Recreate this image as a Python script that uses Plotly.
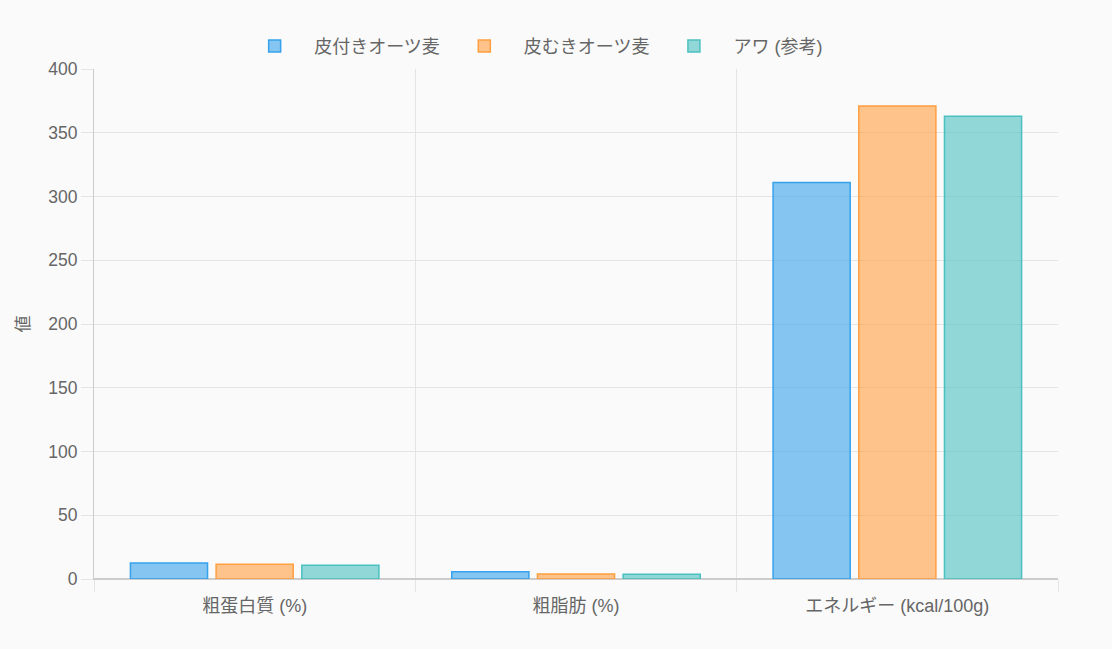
import plotly.graph_objects as go

categories = ["粗蛋白質 (%)", "粗脂肪 (%)", "エネルギー (kcal/100g)"]
series_names = ["皮付きオーツ麦", "皮むきオーツ麦", "アワ (参考)"]
hulled_oat = [12.5, 5.7, 311]
dehulled_oat = [11.5, 4.0, 371]
millet = [10.7, 3.7, 363]
y_ticks = [0, 50, 100, 150, 200, 250, 300, 350, 400]

fills = ["rgba(54,162,235,0.6)", "rgba(255,159,64,0.6)", "rgba(75,192,192,0.6)"]
borders = ["rgb(54,162,235)", "rgb(255,159,64)", "rgb(75,192,192)"]

fig = go.Figure()
for name, vals, f, b in zip(series_names, [hulled_oat, dehulled_oat, millet], fills, borders):
    fig.add_trace(go.Bar(x=categories, y=vals, name=name,
                         marker=dict(color=f, line=dict(color=b, width=1.5))))

font = "Liberation Sans, Arial, Noto Sans CJK JP, sans-serif"
fig.update_layout(
    width=1112, height=649,
    paper_bgcolor="#fafafa", plot_bgcolor="#fafafa",
    margin=dict(l=94, r=54, t=69, b=70),
    barmode="group", bargap=0.2, bargroupgap=0.1,
    font=dict(family=font, size=17, color="#666"),
    legend=dict(orientation="h", x=0.454, xanchor="center", y=1.008, yanchor="bottom",
                font=dict(size=18, color="#666"), itemwidth=69),
    showlegend=True,
)
fig.update_xaxes(type="category", tickson="boundaries", showgrid=True, gridcolor="#e4e4e4",
                 ticks="outside", ticklen=12, tickcolor="#e4e4e4",
                 showline=True, linecolor="#cccccc",
                 ticklabelstandoff=10,
                 tickfont=dict(size=18, color="#666"))
fig.update_yaxes(range=[0, 400], tickvals=y_ticks, showgrid=True, gridcolor="#e4e4e4",
                 ticks="outside", ticklen=12, tickcolor="#e4e4e4",
                 showline=True, linecolor="#cccccc", zeroline=True, zerolinecolor="#cccccc",
                 title=dict(text="値", font=dict(size=17, color="#666"), standoff=14),
                 tickfont=dict(size=17.5, color="#666"))
fig.write_html("out.html", config={"displayModeBar": False},
               post_script="document.body.style.margin='0';document.body.style.background='#fafafa';")
